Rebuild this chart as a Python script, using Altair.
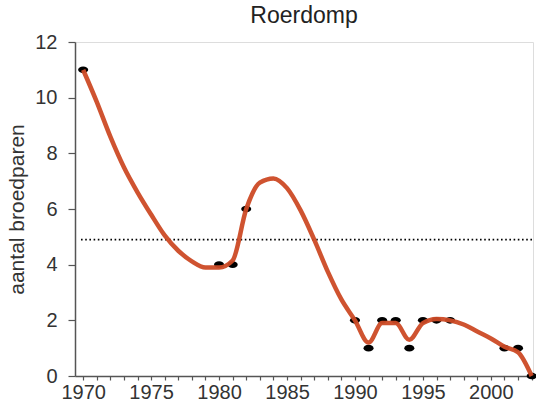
import altair as alt
import pandas as pd

# Observed breeding pairs (Roerdomp)
obs_years = [1970, 1980, 1981, 1982, 1990, 1991, 1992, 1993, 1994, 1995, 1996, 1997, 2001, 2002, 2003]
obs_pairs = [11, 4, 4, 6, 2, 1, 2, 2, 1, 2, 2, 2, 1, 1, 0]

# Smoothed trend, one value per year
trend_years = list(range(1970, 2004))
trend_pairs = [11.0, 9.85, 8.6, 7.5, 6.6, 5.8, 5.05, 4.5, 4.12, 3.9,
               3.9, 4.15, 6.0, 6.95, 7.1, 6.75, 5.95, 4.9, 3.75, 2.75,
               2.0, 1.2, 1.9, 1.9, 1.3, 1.9, 2.05, 2.0, 1.85, 1.6,
               1.35, 1.05, 0.85, 0.0]

# Reference level
ref_level = 4.9

x_ticks = list(range(1970, 2004))
y_ticks = [0, 2, 4, 6, 8, 10, 12]

obs = pd.DataFrame({"jaar": obs_years, "paren": obs_pairs})
trend = pd.DataFrame({"jaar": trend_years, "paren": trend_pairs})

FONT = "Liberation Sans"

x_scale = alt.Scale(domain=[1969.4, 2003.1], nice=False, zero=False)
y_scale = alt.Scale(domain=[0, 12], nice=False)

x_axis = alt.Axis(
    title=None, values=x_ticks, tickCount=len(x_ticks),
    labelExpr="datum.value % 5 == 0 ? datum.value : ''",
    labelFontSize=20, labelColor="#333333", labelFont=FONT, labelPadding=2,
    tickSize=4, tickColor="#555555", tickWidth=1.2,
    domainColor="#555555", domainWidth=1.5, grid=False,
    labelOverlap=False, labelFlush=False,
)
y_axis = alt.Axis(
    title="aantal broedparen", values=y_ticks, format="d",
    titleFontSize=21, titleFont=FONT, titleFontWeight="normal", titleColor="#333333",
    titlePadding=7,
    labelFontSize=20, labelColor="#333333", labelFont=FONT, labelPadding=11,
    tickSize=7, tickColor="#555555", tickWidth=1.2,
    domainColor="#555555", domainWidth=1.5, grid=False, labelOverlap=False,
)

ellipse = "M -1.3 0 A 1.3 0.85 0 1 0 1.3 0 A 1.3 0.85 0 1 0 -1.3 0 Z"

points = alt.Chart(obs).mark_point(
    shape=ellipse, filled=True, color="black", opacity=1, size=60
).encode(
    x=alt.X("jaar:Q", scale=x_scale, axis=x_axis),
    y=alt.Y("paren:Q", scale=y_scale, axis=y_axis),
)

line = alt.Chart(trend).mark_line(
    color="#CC4A25", strokeWidth=4.5, interpolate="monotone", opacity=0.95
).encode(
    x=alt.X("jaar:Q", scale=x_scale),
    y=alt.Y("paren:Q", scale=y_scale),
)

ref = alt.Chart(pd.DataFrame({"niveau": [ref_level]})).mark_rule(
    color="black", strokeWidth=1.7, strokeDash=[1.6, 2.6]
).encode(
    y=alt.Y("niveau:Q", scale=y_scale),
    x=alt.value(6), x2=alt.value(458),
)

chart = alt.layer(ref, points, line).properties(
    width=458, height=334,
    title=alt.TitleParams("Roerdomp", fontSize=23, font=FONT, fontWeight="normal",
                          color="#222222", offset=4, anchor="middle", frame="group"),
    autosize=alt.AutoSizeParams(type="none"),
    padding={"left": 75, "top": 42, "right": 3, "bottom": 27},
).configure_view(
    stroke="#888888", strokeWidth=1.5
).configure(background="white")

chart.save("out.html", embed_options={"renderer": "svg", "actions": False})
